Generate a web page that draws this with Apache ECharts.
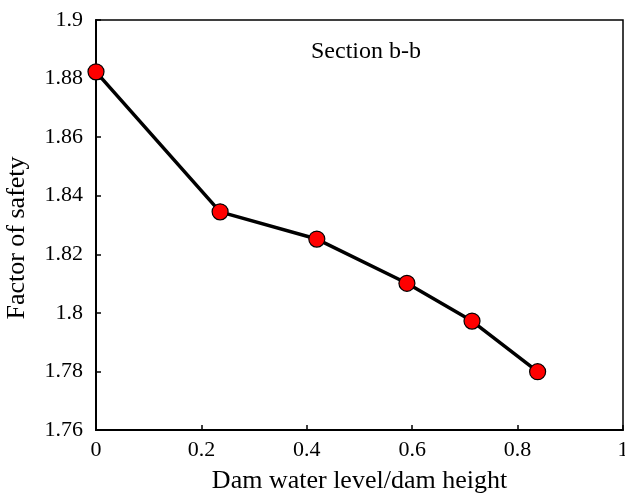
<!DOCTYPE html>
<html>
<head>
<meta charset="utf-8">
<style>
  * { margin: 0; padding: 0; }
  #container { width: 625px; height: 499px; }
</style>
</head>
<body>
<div id="container"></div>
<script src="https://cdn.jsdelivr.net/npm/echarts@6/dist/echarts.min.js"></script>
<script>
  // water level ratio vs factor of safety
  var ratio = [0, 0.2355, 0.419, 0.590, 0.7135, 0.838];
  var safety = [1.8823, 1.8345, 1.8252, 1.8101, 1.7972, 1.7799];

  var points = ratio.map(function (r, i) { return [r, safety[i]]; });

  var font = '"Liberation Serif", "Times New Roman", serif';
  var chart = echarts.init(document.getElementById('container'));

  var option = {
    animation: false,
    grid: {
      left: 96, right: 2, top: 20, bottom: 69,
      outerBoundsMode: 'none',
      show: true,
      borderColor: '#000',
      borderWidth: 1.5
    },
    title: {
      text: 'Section b-b',
      left: 366, top: 40,
      padding: 0,
      textAlign: 'center',
      textStyle: { fontFamily: font, fontSize: 24, fontWeight: 'normal', color: '#000' }
    },
    xAxis: {
      type: 'value',
      min: 0, max: 1, interval: 0.2,
      name: 'Dam water level/dam height',
      nameLocation: 'middle',
      nameGap: 38,
      nameTextStyle: { fontFamily: font, fontSize: 26, color: '#000' },
      axisLine: { lineStyle: { color: '#000', width: 2 } },
      axisTick: { inside: true, length: 5, lineStyle: { color: '#000', width: 1.5 } },
      axisLabel: { fontFamily: font, fontSize: 22, color: '#000', margin: 9 },
      splitLine: { show: false }
    },
    yAxis: {
      type: 'value',
      min: 1.76, max: 1.9, interval: 0.02,
      name: 'Factor of safety',
      nameLocation: 'middle',
      nameGap: 66,
      nameTextStyle: { fontFamily: font, fontSize: 26, color: '#000', padding: [0, 26, 0, 0] },
      axisLine: { lineStyle: { color: '#000', width: 2 } },
      axisTick: { inside: true, length: 5, lineStyle: { color: '#000', width: 1.5 } },
      axisLabel: {
        fontFamily: font, fontSize: 22, color: '#000', margin: 13,
        formatter: function (v) { return String(parseFloat(v.toFixed(2))); }
      },
      splitLine: { show: false }
    },
    series: [{
      type: 'line',
      data: points,
      symbol: 'circle',
      symbolSize: 16,
      lineStyle: { color: '#000', width: 3.5 },
      itemStyle: { color: '#ff0000', borderColor: '#000', borderWidth: 1.2 },
      clip: false
    }]
  };

  chart.setOption(option);
</script>
</body>
</html>
